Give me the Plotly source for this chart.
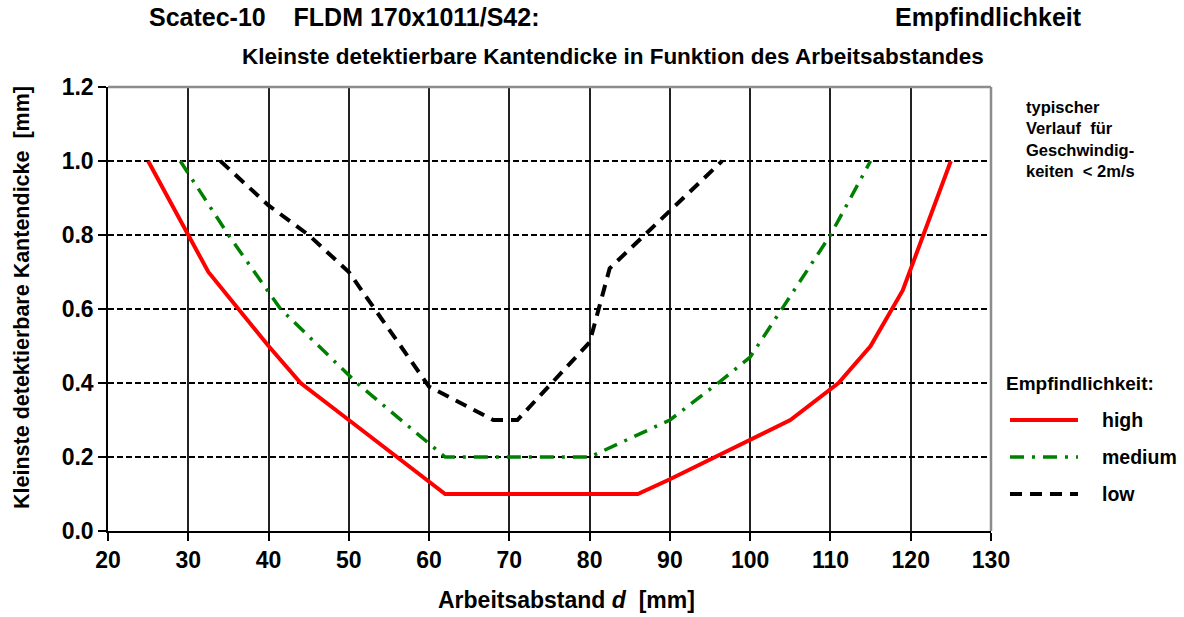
import plotly.graph_objects as go

# Arbeitsabstand d [mm] vs. kleinste detektierbare Kantendicke [mm]
dist_high = [25, 30, 32.5, 40, 44, 50, 62, 86, 90, 105, 111, 115, 119, 125]
thick_high = [1.0, 0.8, 0.7, 0.5, 0.4, 0.3, 0.1, 0.1, 0.14, 0.3, 0.4, 0.5, 0.65, 1.0]

dist_medium = [29, 35, 41.5, 51, 62, 80, 85, 90, 96, 100, 110, 115]
thick_medium = [1.0, 0.8, 0.6, 0.4, 0.2, 0.2, 0.25, 0.3, 0.4, 0.47, 0.8, 1.0]

dist_low = [34, 40, 45, 50, 60, 68, 71, 80, 82.5, 96.5]
thick_low = [1.0, 0.88, 0.8, 0.7, 0.39, 0.3, 0.3, 0.51, 0.71, 1.0]

x_ticks = [20, 30, 40, 50, 60, 70, 80, 90, 100, 110, 120, 130]
y_ticks = [0.0, 0.2, 0.4, 0.6, 0.8, 1.0, 1.2]

FONT = "Liberation Sans, Arial, sans-serif"
RED, GREEN, BLACK = "#ff0000", "#008000", "#000000"
DASH_MED = "14px,8px,3px,8px"
DASH_LOW = "12px,8px"

series = [
    ("high", dist_high, thick_high, RED, "solid", 4),
    ("medium", dist_medium, thick_medium, GREEN, DASH_MED, 3.5),
    ("low", dist_low, thick_low, BLACK, DASH_LOW, 4),
]

fig = go.Figure()
for name, xs, ys, col, dash, w in series:
    fig.add_trace(go.Scatter(
        x=xs, y=ys, mode="lines", name=name,
        line=dict(color=col, dash=dash, width=w)))

bold = dict(family=FONT, color="black", weight="bold")

fig.update_layout(
    width=1184, height=617,
    margin=dict(l=108, r=193, t=87, b=86),
    paper_bgcolor="white", plot_bgcolor="white",
    showlegend=False,
    font=dict(family=FONT, color="black"),
    xaxis=dict(
        range=[20, 130], tickvals=x_ticks, ticks="outside", ticklen=8,
        tickwidth=1.5, tickcolor="black", showline=True, linecolor="black",
        linewidth=1.5, showgrid=True, gridcolor="#222", gridwidth=1.5,
        zeroline=False, tickfont=dict(size=23, **bold)),
    yaxis=dict(
        range=[0, 1.2], tickvals=y_ticks, tickformat=".1f", ticks="outside",
        ticklen=8, tickwidth=1.5, tickcolor="black", showline=True,
        linecolor="black", linewidth=1.5, showgrid=True, gridcolor="black",
        gridwidth=1.5, griddash="6px,3px", zeroline=False,
        tickfont=dict(size=23, **bold)),
)

# grey frame on top and right
fig.add_shape(type="line", xref="paper", yref="paper", x0=0, x1=1, y0=1, y1=1,
              line=dict(color="#8c8c8c", width=2.5))
fig.add_shape(type="line", xref="paper", yref="paper", x0=1, x1=1, y0=0, y1=1,
              line=dict(color="#8c8c8c", width=2.5))


def note(text, x, y, size, xanchor="left", yanchor="middle", **kw):
    fig.add_annotation(text=text, x=x, y=y, xref="paper", yref="paper",
                       xanchor=xanchor, yanchor=yanchor, showarrow=False,
                       font=dict(size=size, **bold), **kw)


note("Scatec-10    FLDM 170x1011/S42:", 0.044, 1.157, 25)
note("Empfindlichkeit", 0.889, 1.157, 25)
note("Kleinste detektierbare Kantendicke in Funktion des Arbeitsabstandes",
     0.1495, 1.068, 22.5)
note("Arbeitsabstand <i>d</i>  [mm]", 0.519, -0.155, 23, xanchor="center")
note("Kleinste detektierbare Kantendicke  [mm]", -0.0968, 0.526, 21.5,
     xanchor="center", textangle=-90)
note("typischer<br>Verlauf  für<br>Geschwindig-<br>keiten  < 2m/s",
     1.0374, 0.98, 16.5, yanchor="top", align="left")
note("Empfindlichkeit:", 1.0147, 0.333, 19)

# legend samples
for (name, _, _, col, dash, w), ly in zip(series, [0.25, 0.1667, 0.0833]):
    fig.add_shape(type="line", xref="paper", yref="paper",
                  x0=1.0215, x1=1.0985, y0=ly, y1=ly,
                  line=dict(color=col, dash=dash, width=w))
    note(name, 1.1234, ly, 19.5)

# drop the default 8px page margin so the figure fills the window exactly
fig.write_html("out.html", config={"displayModeBar": False},
               post_script="document.body.style.margin='0';")
